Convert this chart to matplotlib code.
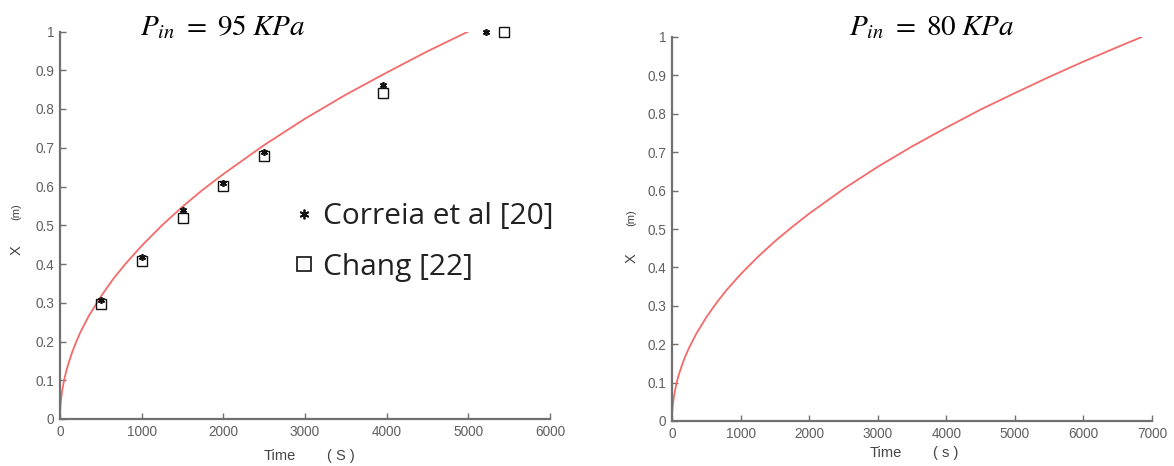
import matplotlib
matplotlib.use("Agg")
import matplotlib.pyplot as plt
from matplotlib.lines import Line2D

# ---- data ----
t_model95 = [0, 2, 5, 10, 25, 50, 75, 100, 150, 200, 250, 350, 500, 650, 800, 1000,
             1250, 1500, 1750, 2000, 2500, 3000, 3500, 4000, 4500, 5000]
x_model95 = [0.0, 0.020, 0.032, 0.045, 0.071, 0.100, 0.122, 0.141, 0.173, 0.200,
             0.224, 0.265, 0.316, 0.361, 0.400, 0.447, 0.500, 0.548, 0.592, 0.632,
             0.707, 0.775, 0.837, 0.894, 0.949, 1.0]

t_correia = [500, 1000, 1500, 2000, 2500, 3950, 5220]
x_correia = [0.307, 0.417, 0.539, 0.610, 0.690, 0.862, 1.0]

t_chang = [500, 1000, 1500, 2000, 2500, 3950, 5440]
x_chang = [0.297, 0.408, 0.520, 0.601, 0.679, 0.842, 1.0]

t_model80 = [0, 2, 5, 10, 25, 50, 75, 100, 150, 200, 250, 350, 500, 650, 800, 1000,
             1250, 1500, 1750, 2000, 2500, 3000, 3500, 4000, 4500, 5000, 5500,
             6000, 6500, 6850]
x_model80 = [0.0, 0.017, 0.027, 0.038, 0.060, 0.085, 0.105, 0.121, 0.148, 0.171,
             0.191, 0.226, 0.270, 0.308, 0.342, 0.382, 0.427, 0.468, 0.505, 0.540,
             0.604, 0.662, 0.715, 0.764, 0.811, 0.854, 0.896, 0.936, 0.974, 1.0]

xticks_left = [0, 1000, 2000, 3000, 4000, 5000, 6000]
xticks_right = [0, 1000, 2000, 3000, 4000, 5000, 6000, 7000]
yticks = [0, 0.1, 0.2, 0.3, 0.4, 0.5, 0.6, 0.7, 0.8, 0.9, 1]
ytick_labels = ["0", "0.1", "0.2", "0.3", "0.4", "0.5", "0.6", "0.7", "0.8", "0.9", "1"]

title_left = r"$P_{in}\ =\ 95\;KPa$"
title_right = r"$P_{in}\ =\ 80\;KPa$"
legend_labels = ["Correia et al [20]", "Chang [22]"]

# ---- style ----
plt.rcParams["mathtext.fontset"] = "stix"
W, H = 1174, 466
fig = plt.figure(figsize=(W / 100, H / 100), dpi=100)

LINE_COLOR = "#f46a6a"
SPINE = "#707070"
TICKLAB = "#606060"
TICKFONT = "Liberation Sans"


def style(ax, xticks, xmax):
    for s in ("top", "right"):
        ax.spines[s].set_visible(False)
    for s in ("left", "bottom"):
        ax.spines[s].set_color(SPINE)
        ax.spines[s].set_linewidth(1.6)
    ax.set_xlim(0, xmax)
    ax.set_ylim(0, 1)
    ax.set_xticks(xticks)
    ax.set_xticklabels([str(v) for v in xticks])
    ax.set_yticks(yticks)
    ax.set_yticklabels(ytick_labels)
    ax.tick_params(direction="in", length=4, width=1.0, color=SPINE,
                   labelsize=9.8, labelcolor=TICKLAB, pad=4)
    for lab in ax.get_xticklabels() + ax.get_yticklabels():
        lab.set_fontfamily(TICKFONT)


def px_axes(l, r, t, b):
    return [l / W, 1 - b / H, (r - l) / W, (b - t) / H]


ax1 = fig.add_axes(px_axes(60, 550, 31.5, 419))
ax1.plot(t_model95, x_model95, color=LINE_COLOR, lw=1.3, zorder=2)
ax1.plot(t_correia, x_correia, linestyle="none", marker=(6, 2, 0), ms=5,
         mew=1.2, color="#111111", zorder=3, clip_on=False)
ax1.plot(t_chang, x_chang, linestyle="none", marker="s", ms=6.5, mfc="none",
         mec="#111111", mew=1.0, zorder=3, clip_on=False)
style(ax1, xticks_left, 6000)

ax2 = fig.add_axes(px_axes(672, 1152, 37, 421))
ax2.plot(t_model80, x_model80, color=LINE_COLOR, lw=1.3)
style(ax2, xticks_right, 7000)

# titles
fig.text(223 / W, 1 - 27 / H, title_left, fontsize=21, ha="center", va="center")
fig.text(932 / W, 1 - 27 / H, title_right, fontsize=21, ha="center", va="center")

# legend
handles = [
    Line2D([], [], linestyle="none", marker=(6, 2, 0), ms=7, mew=1.3, color="#111111"),
    Line2D([], [], linestyle="none", marker="s", ms=10, mfc="none", mec="#111111", mew=1.2),
]
leg = fig.legend(handles, legend_labels, loc="center left",
                 bbox_to_anchor=(280 / W, 1 - 242 / H), frameon=False,
                 prop={"family": "Open Sans", "size": 21.5}, handlelength=0.6,
                 handletextpad=0.35, labelspacing=0.72, borderpad=0)
for txt in leg.get_texts():
    txt.set_color("#222222")

# axis labels
lab_kw = dict(family=TICKFONT, color="#444444")
fig.text(280 / W, 1 - 456 / H, "Time", fontsize=10.5, ha="center", va="center", **lab_kw)
fig.text(341 / W, 1 - 456 / H, "( S )", fontsize=10.5, ha="center", va="center", **lab_kw)
fig.text(886 / W, 1 - 453 / H, "Time", fontsize=10.5, ha="center", va="center", **lab_kw)
fig.text(946 / W, 1 - 453 / H, "( s )", fontsize=10.5, ha="center", va="center", **lab_kw)

fig.text(17 / W, 1 - 250 / H, "X", fontsize=10.5, rotation=90, ha="center", va="center", **lab_kw)
fig.text(16 / W, 1 - 212 / H, "(m)", fontsize=8, rotation=90, ha="center", va="center", **lab_kw)
fig.text(632 / W, 1 - 258 / H, "X", fontsize=10.5, rotation=90, ha="center", va="center", **lab_kw)
fig.text(631 / W, 1 - 218 / H, "(m)", fontsize=8, rotation=90, ha="center", va="center", **lab_kw)

fig.savefig("out.png", dpi=100)
